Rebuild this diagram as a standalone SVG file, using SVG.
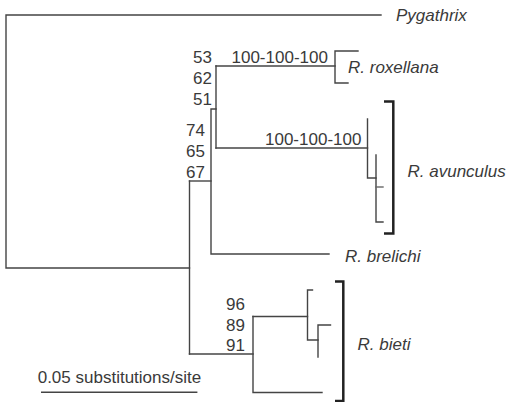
<svg xmlns="http://www.w3.org/2000/svg" width="507" height="402" viewBox="0 0 507 402">
<style>
.br{fill:none;stroke:#444;stroke-width:1.4;stroke-linecap:square}
.lt{stroke:#666}
.bk{fill:none;stroke:#222;stroke-width:2.5}
text{font-family:"Liberation Sans",Arial,sans-serif;font-size:17px;fill:#3a3a3a}
.sp{font-style:italic}
.n{text-anchor:end}
</style>
<rect width="507" height="402" fill="#fff"/>
<g id="connectors">
<path class="br" d="M381,15 H6 V268 H189.5"/>
<path class="br" d="M189.5,181 V354"/>
<path class="br" d="M189.5,181 H211"/>
<path class="br" d="M216,109 H211 V254 H329"/>
<path class="br" d="M216,66 V148"/>
<path class="br" d="M216,66 H335"/>
<path class="br" d="M358,51 H335 V83 H348"/>
<path class="br" d="M216,148 H367.5"/>
<path class="br" d="M367.5,119 V178 H376"/>
<path class="br" d="M376,155 V222 H383"/>
<path class="br lt" d="M376,187 H383"/>
<path class="br" d="M189.5,354 H253"/>
<path class="br" d="M253,316.5 V392.5 H322"/>
<path class="br" d="M253,316.5 H307.5"/>
<path class="br" d="M312.5,290 H307.5 V340 H318"/>
<path class="br" d="M330.5,325 H318 V357"/>
<path class="br" d="M41.7,392.3 H196.7"/>
</g>
<g id="bracket-avunculus"><path class="bk" d="M384,101.5 H393.3 V233.5 H384"/></g>
<g id="bracket-bieti"><path class="bk" d="M335,281.5 H343.3 V401 H335"/></g>
<g id="node-pygathrix"><text class="sp" x="396" y="21">Pygathrix</text></g>
<g id="node-roxellana"><text class="sp" x="348" y="73">R. roxellana</text></g>
<g id="node-avunculus"><text class="sp" x="407.5" y="177">R. avunculus</text></g>
<g id="node-brelichi"><text class="sp" x="345" y="262">R. brelichi</text></g>
<g id="node-bieti"><text class="sp" x="357.5" y="349.5">R. bieti</text></g>
<g id="labels-1">
<text class="n" x="212" y="63">53</text>
<text class="n" x="212" y="84">62</text>
<text class="n" x="212" y="105">51</text>
</g>
<g id="labels-2">
<text class="n" x="205" y="136">74</text>
<text class="n" x="205" y="157">65</text>
<text class="n" x="205" y="178">67</text>
</g>
<g id="labels-3">
<text class="n" x="245" y="310">96</text>
<text class="n" x="245" y="331">89</text>
<text class="n" x="245" y="351">91</text>
</g>
<g id="label-rox"><text x="231.5" y="63">100-100-100</text></g>
<g id="label-avu"><text x="265" y="145">100-100-100</text></g>
<g id="scale"><text x="37.7" y="383.3">0.05 substitutions/site</text></g>
</svg>
